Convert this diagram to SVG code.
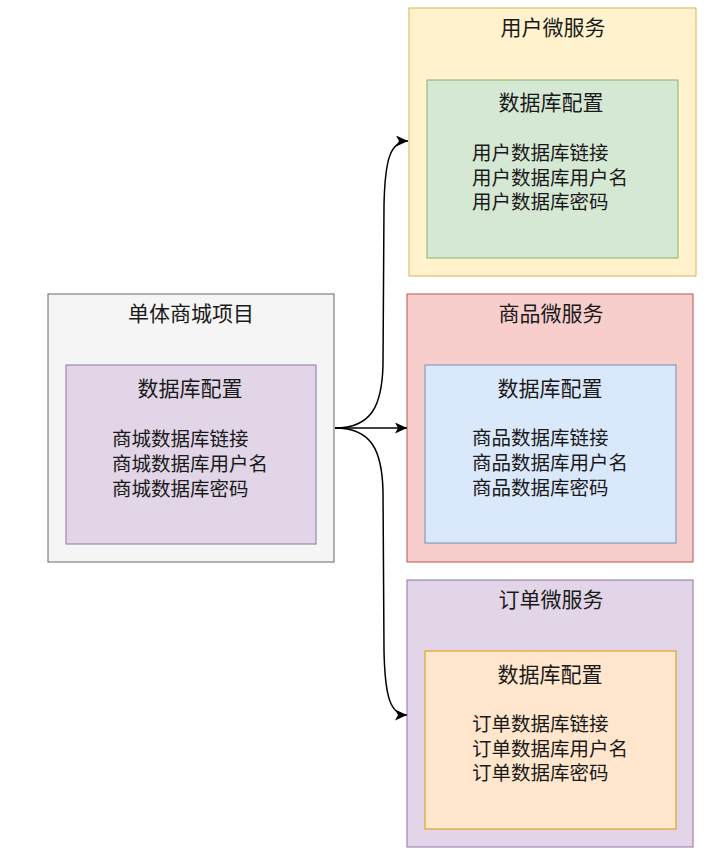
<svg xmlns="http://www.w3.org/2000/svg" width="706" height="864" viewBox="0 0 706 864">
<style>
text{font-family:"Liberation Sans","Noto Sans CJK SC",sans-serif;fill:#1a1a1a;}
.t{font-size:21px;text-anchor:middle;dominant-baseline:central;}
.b{font-size:19.5px;dominant-baseline:central;}
.edge{fill:none;stroke:#000;stroke-width:1.5;}
</style>
<defs>
<marker id="arr" markerUnits="userSpaceOnUse" markerWidth="14" markerHeight="12" refX="12" refY="5.5" orient="auto">
<path d="M0,0 L12,5.5 L0,11 L3,5.5 Z" fill="#000"/>
</marker>
</defs>
<rect width="706" height="864" fill="#fff"/>
<g id="mono">
<rect x="48" y="294" width="286" height="268" fill="#f5f5f5" stroke="#666" stroke-width="1"/>
<text class="t" x="191" y="313">单体商城项目</text>
<rect x="66" y="365" width="250" height="179" fill="#e1d5e7" stroke="#9673a6" stroke-width="1"/>
<text class="t" x="190" y="388">数据库配置</text>
<text class="b" x="112" y="439">商城数据库链接</text>
<text class="b" x="112" y="464">商城数据库用户名</text>
<text class="b" x="112" y="489">商城数据库密码</text>
</g>
<g id="user">
<rect x="409" y="8" width="287" height="268" fill="#fff2cc" stroke="#d6b656" stroke-width="1"/>
<text class="t" x="553" y="27">用户微服务</text>
<rect x="427" y="80" width="251" height="178" fill="#d5e8d4" stroke="#82b366" stroke-width="1"/>
<text class="t" x="551" y="102">数据库配置</text>
<text class="b" x="472" y="153">用户数据库链接</text>
<text class="b" x="472" y="178">用户数据库用户名</text>
<text class="b" x="472" y="202">用户数据库密码</text>
</g>
<g id="goods">
<rect x="407" y="294" width="286" height="268" fill="#f8cecc" stroke="#b85450" stroke-width="1"/>
<text class="t" x="551" y="313">商品微服务</text>
<rect x="425" y="365" width="251" height="178" fill="#dae8fc" stroke="#6c8ebf" stroke-width="1"/>
<text class="t" x="550" y="388">数据库配置</text>
<text class="b" x="472" y="438">商品数据库链接</text>
<text class="b" x="472" y="463">商品数据库用户名</text>
<text class="b" x="472" y="488">商品数据库密码</text>
</g>
<g id="order">
<rect x="407" y="580" width="286" height="267" fill="#e1d5e7" stroke="#9673a6" stroke-width="1"/>
<text class="t" x="551" y="599">订单微服务</text>
<rect x="425" y="651" width="251" height="178" fill="#ffe6cc" stroke="#d79b00" stroke-width="1"/>
<text class="t" x="550" y="674">数据库配置</text>
<text class="b" x="472" y="724">订单数据库链接</text>
<text class="b" x="472" y="749">订单数据库用户名</text>
<text class="b" x="472" y="773">订单数据库密码</text>
</g>
<g id="connectors">
<path class="edge" d="M335,428 C372,428 382,405 383,365 L384,205 C385,160 390,141 408,141" marker-end="url(#arr)"/>
<path class="edge" d="M335,428 L407,428" marker-end="url(#arr)"/>
<path class="edge" d="M335,428 C372,428 382,451 383,491 L384,651 C385,696 390,715 407,715" marker-end="url(#arr)"/>
</g>
</svg>
